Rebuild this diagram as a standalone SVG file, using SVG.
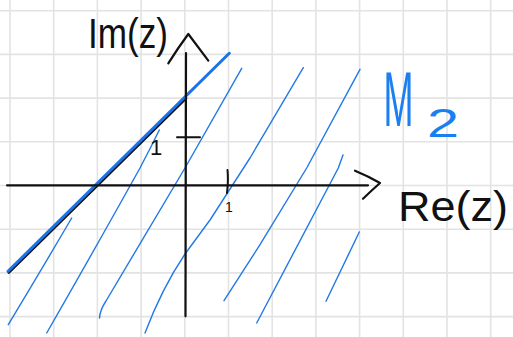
<svg xmlns="http://www.w3.org/2000/svg" width="513" height="337" viewBox="0 0 513 337">
<style>
.grid{stroke:#e3e3e3;stroke-width:1.6;fill:none}
.ax{stroke:#111;stroke-width:2.2;fill:none;stroke-linecap:round;stroke-linejoin:round}
.hatch{stroke:#2279e6;stroke-width:1.4;fill:none;stroke-linecap:round;stroke-linejoin:round}
.bk{fill:#111;font-family:"Liberation Sans",Arial,sans-serif}
.bl{fill:#1a7ff0;font-family:"Liberation Sans",Arial,sans-serif}
</style>
<rect width="513" height="337" fill="#ffffff"/>
<g id="grid" class="grid">
<path d="M10,0V337M53.7,0V337M97.4,0V337M141.1,0V337M184.8,0V337M228.5,0V337M272.2,0V337M315.9,0V337M359.6,0V337M403.3,0V337M447,0V337M490.7,0V337"/>
<path d="M0,10.7H513M0,54.4H513M0,98.1H513M0,141.8H513M0,185.5H513M0,229.2H513M0,272.9H513M0,316.6H513"/>
</g>
<g id="hatching" class="hatch">
<path d="M8.3,324.7 Q40,272 71.7,218"/>
<path d="M46.7,333 Q100,240 140,168 Q150,149 159.3,130"/>
<path d="M99.5,318 Q100,310 106,301 L185,168 L241.7,68.3"/>
<path d="M145,333 Q162,288 185,254 L210,220 L250,158 L303.3,67.7"/>
<path d="M224,300.7 L260,244.7 L306.7,168 L360,69.3"/>
<path d="M256.7,323 L338.3,168 L343,155"/>
<path d="M326,301.3 L359.3,232"/>
</g>
<g id="boundary">
<path d="M8.8,272.6 L186,98.2" stroke="#111" stroke-width="2.6" fill="none" stroke-linecap="round"/>
<path d="M8,271.3 L229.3,53.3" stroke="#1a73e8" stroke-width="3" fill="none" stroke-linecap="round"/>
</g>
<g id="axes" class="ax">
<path d="M7,185.3 L368,185.3"/>
<path d="M355,170.7 Q368,176 380,183 Q371,191 363,198.7"/>
<path d="M185.5,316.3 L186,53"/>
<path d="M168.3,63.3 Q178,48 188.3,34 Q198,47 208.3,60.7"/>
<path d="M177,137.3 L200,137.3" stroke-width="2"/>
<path d="M227.5,170 Q228.5,180 227,193" stroke-width="2"/>
</g>
<g id="labels">
<text class="bk" x="88" y="48" font-size="42" textLength="80" lengthAdjust="spacingAndGlyphs">Im(z)</text>
<text class="bk" x="398" y="221" font-size="42" textLength="110" lengthAdjust="spacingAndGlyphs">Re(z)</text>
<text class="bk" x="156" y="155" font-size="22" text-anchor="middle">1</text>
<text class="bk" x="229" y="212" font-size="14" text-anchor="middle">1</text>
<text class="bl" transform="translate(383.5,126) scale(0.9,1.96)" font-size="40">M</text>
<text class="bl" x="427" y="136.5" font-size="40" textLength="32" lengthAdjust="spacingAndGlyphs">2</text>
</g>
</svg>
